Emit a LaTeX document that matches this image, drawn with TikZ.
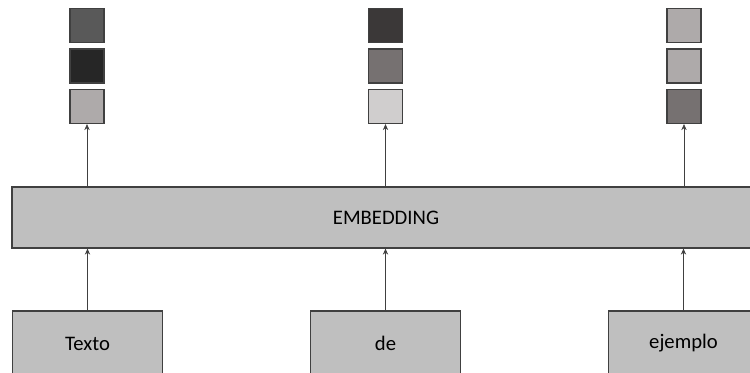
\documentclass[tikz,border=0pt]{standalone}
\usepackage{fontspec}
\setmainfont{Carlito}
\usepackage{tikz}
\usetikzlibrary{arrows.meta,
                positioning}
\definecolor{boxgray}{HTML}{BFBFBF}
\definecolor{edge}{HTML}{404040}
\definecolor{gA}{HTML}{595959}
\definecolor{gB}{HTML}{262626}
\definecolor{gC}{HTML}{AEAAAA}
\definecolor{gD}{HTML}{3B3838}
\definecolor{gE}{HTML}{767171}
\definecolor{gF}{HTML}{D0CECE}
\tikzset{
        base/.style={draw=edge, line width=0.9pt, fill=boxgray, align=center,
                     font=\fontsize{15.5}{18}\selectfont},
        word/.style={base, rectangle, minimum width=113pt, minimum height=48.75pt},
        embed/.style={base, rectangle, minimum width=561pt, minimum height=45.75pt},
        cell/.style={draw=edge, line width=0.9pt, rectangle, minimum width=25.5pt,
                     minimum height=25.5pt, inner sep=0pt},
        myarrow/.style={-{Stealth[length=4.5pt, width=4pt]}, line width=0.5pt, draw=edge},
 }
\begin{document}
\begin{tikzpicture}[x=0.75pt, y=-0.75pt]
    \clip (0,0) rectangle (750,372);
    % input words
    \node[word] (w0) at (87.5,343.5) {Texto};
    \node[word] (w1) at (385.5,343.5) {de};
    \node[word] (w2) at (683.5,343.5) {ejemplo};
    % embedding layer
    \node[embed] (emb) at (386,217.5) {EMBEDDING};
    % output vectors
    \node[cell, fill=gC] (v00) at (87,106.5) {};
    \node[cell, fill=gB, above=4pt of v00] (v01) {};
    \node[cell, fill=gA, above=4pt of v01] (v02) {};
    \node[cell, fill=gF] (v10) at (385.5,106.5) {};
    \node[cell, fill=gE, above=4pt of v10] (v11) {};
    \node[cell, fill=gD, above=4pt of v11] (v12) {};
    \node[cell, fill=gE] (v20) at (684,106.5) {};
    \node[cell, fill=gC, above=4pt of v20] (v21) {};
    \node[cell, fill=gC, above=4pt of v21] (v22) {};
    % connections
    \draw[myarrow] (w0.north) -- (w0.north |- emb.south);
    \draw[myarrow] (w1.north) -- (w1.north |- emb.south);
    \draw[myarrow] (w2.north) -- (w2.north |- emb.south);
    \draw[myarrow] (v00.south |- emb.north) -- (v00.south);
    \draw[myarrow] (v10.south |- emb.north) -- (v10.south);
    \draw[myarrow] (v20.south |- emb.north) -- (v20.south);
\end{tikzpicture}
\end{document}
